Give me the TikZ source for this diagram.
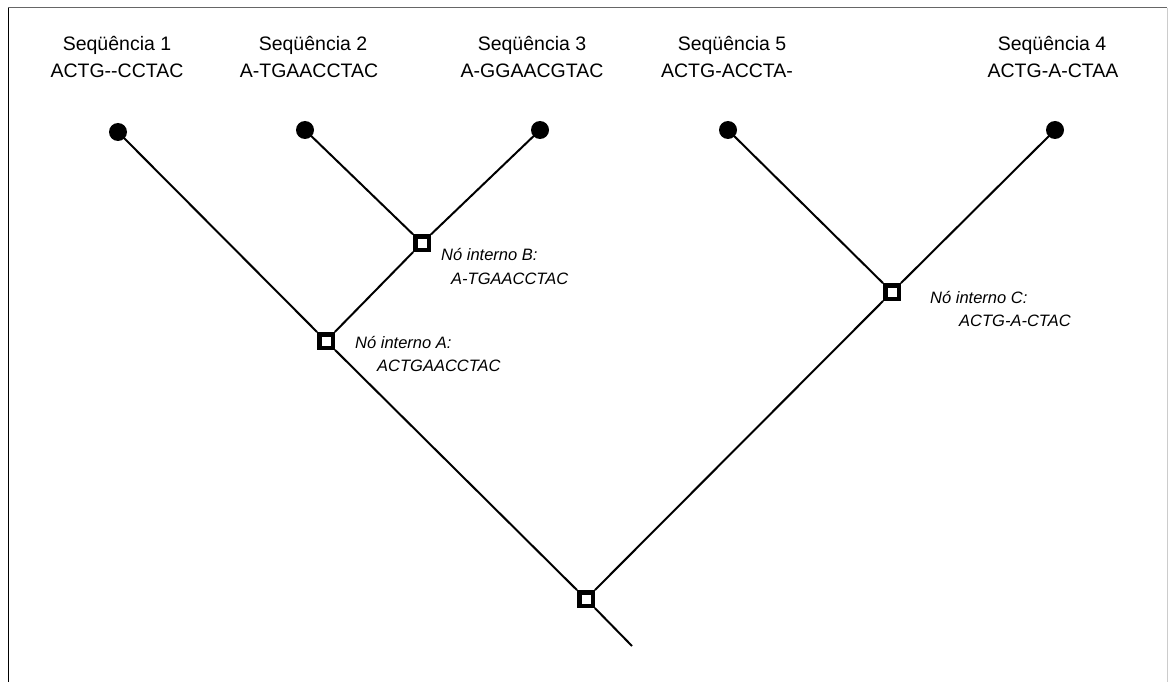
\documentclass[tikz,border=0pt]{standalone}
\usepackage{fontspec}
\setmainfont[Ligatures=NoCommon]{Liberation Sans}
\begin{document}
\begin{tikzpicture}[x=1pt,y=-1pt,
  leaf/.style={circle,fill=black,inner sep=0pt,minimum size=18pt},
  inner/.style={rectangle,draw=black,line width=4.5pt,fill=white,inner sep=0pt,minimum size=13.5pt},
  branch/.style={line width=2pt},
  seqlabel/.style={font=\fontsize{19.5}{26}\selectfont,align=center,inner sep=0pt},
  intlabel/.style={font=\fontsize{16.5}{22}\selectfont\itshape,anchor=west,inner sep=0pt}]
\useasboundingbox (0,0) rectangle (1168,682);
\fill[white] (0,0) rectangle (1168,682);
% frame
\draw[line width=1pt,gray!80!black] (8,8) -- (1167,8);
\draw[line width=1pt,black] (8,8) -- (8,682);
\draw[line width=1pt,gray!40] (1167,8) -- (1167,682);
% nodes
\coordinate (E) at (632,646);
\node[inner] (R) at (586,599) {};
\node[inner] (A) at (326,341) {};
\node[inner] (B) at (422,243) {};
\node[inner] (C) at (892,292) {};
\node[leaf] (S1) at (118,132) {};
\node[leaf] (S2) at (305,130) {};
\node[leaf] (S3) at (540,130) {};
\node[leaf] (S5) at (728,130) {};
\node[leaf] (S4) at (1055,130) {};
% branches
\draw[branch] (S1.center) -- (A);
\draw[branch] (A) -- (R);
\draw[branch] (R) -- (E);
\draw[branch] (S2.center) -- (B);
\draw[branch] (S3.center) -- (B);
\draw[branch] (B) -- (A);
\draw[branch] (S5.center) -- (C);
\draw[branch] (S4.center) -- (C);
\draw[branch] (C) -- (R);
% sequence labels
\node[seqlabel] (L1a) at (117,45) {Seqüência 1};
\node[seqlabel] (L1b) at (117,71) {ACTG-{}-CCTAC};
\node[seqlabel] (L2a) at (313,45) {Seqüência 2};
\node[seqlabel] (L2b) at (309,71) {A-TGAACCTAC};
\node[seqlabel] (L3a) at (532,45) {Seqüência 3};
\node[seqlabel] (L3b) at (532,71) {A-GGAACGTAC};
\node[seqlabel] (L5a) at (732,45) {Seqüência 5};
\node[seqlabel] (L5b) at (727,71) {ACTG-ACCTA-};
\node[seqlabel] (L4a) at (1052,45) {Seqüência 4};
\node[seqlabel] (L4b) at (1053,71) {ACTG-A-CTAA};
% internal labels
\node[intlabel] (IBa) at (441,255) {Nó interno B:};
\node[intlabel] (IBb) at (451,279) {A-TGAACCTAC};
\node[intlabel] (IAa) at (355,343) {Nó interno A:};
\node[intlabel] (IAb) at (377,366) {ACTGAACCTAC};
\node[intlabel] (ICa) at (930,298) {Nó interno C:};
\node[intlabel] (ICb) at (959,321) {ACTG-A-CTAC};
\end{tikzpicture}
\end{document}
